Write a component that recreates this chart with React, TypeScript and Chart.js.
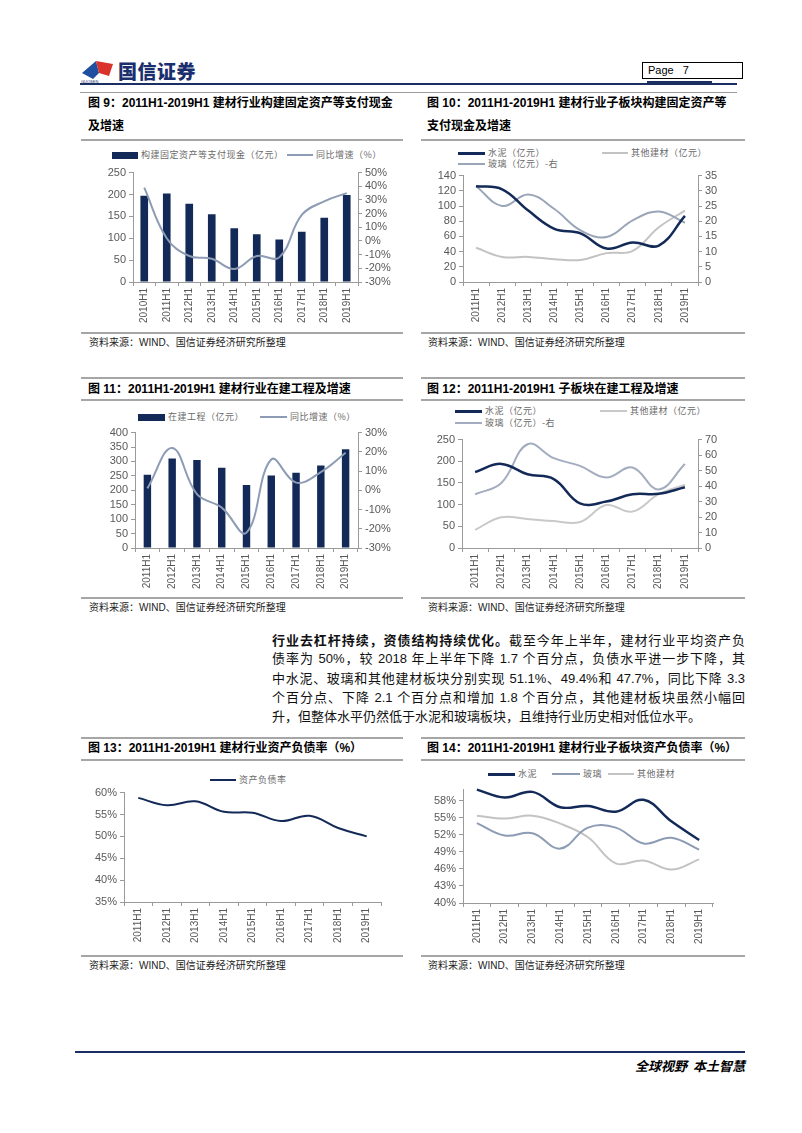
import React, { useEffect, useRef } from "react";
import { Chart, registerables } from "chart.js";
Chart.register(...registerables);

// ---------- data ----------
const cats10 = ["2010H1", "2011H1", "2012H1", "2013H1", "2014H1", "2015H1", "2016H1", "2017H1", "2018H1", "2019H1"];
const cats9 = ["2011H1", "2012H1", "2013H1", "2014H1", "2015H1", "2016H1", "2017H1", "2018H1", "2019H1"];

const f9Cash = [197, 202, 179, 155, 123, 109, 97, 115, 147, 199];
const f9Growth = [39, 2, -11, -13, -20.5, -11, -12, 19, 29, 35];

const f10Cement = [126, 122, 94, 70, 64, 44, 52, 48, 87];
const f10Other = [45, 33, 33, 30, 29, 38, 41, 72, 94];
const f10Glass = [31.5, 25, 28.8, 24, 17, 14.8, 20.3, 23.2, 19.5];

const f11Cip = [254, 310, 305, 278, 218, 251, 261, 286, 342];
const f11Growth = [1, 22, -2, -9, -22, 16, 4, 9.5, 19.5];

const f12Cement = [175, 194, 170, 159, 103, 107, 124, 125, 140];
const f12Other = [42, 71, 67, 62, 60, 99, 84, 124, 146];
const f12Glass = [34.7, 42, 67, 58, 53, 45.5, 52, 37.8, 54.3];

const f13Ratio = [58.8, 57.1, 58.0, 55.6, 55.4, 53.5, 54.7, 51.9, 50.0];

const f14Cement = [60.0, 58.6, 59.6, 56.9, 57.1, 56.1, 58.2, 54.4, 51.1];
const f14Glass = [54.1, 51.9, 52.3, 49.6, 53.3, 53.3, 50.5, 51.5, 49.4];
const f14Other = [55.4, 54.9, 55.4, 54.0, 51.6, 47.0, 47.5, 45.9, 47.7];
const f14Ticks = [40, 43, 46, 49, 52, 55, 58];

// ---------- styles ----------
const NAVY = "#132a58";
const BLUEGRAY = "#8d9cb4";
const LIGHTGRAY = "#c3c3c3";
const AXIS = "#9a9a9a";
const TICK = "#595959";
const FONT = "'Liberation Sans', Arial, 'Noto Sans CJK SC', sans-serif";
const CJK = "'Noto Sans CJK SC', 'Liberation Sans', sans-serif";

type Box = { l: number; t: number; r: number; b: number };

function yAxis(position: string, min: number, max: number, step: number, width: number, pct: boolean, fixed?: number[]) {
  const ax: any = {
    type: "linear",
    position,
    min,
    max,
    ticks: {
      stepSize: step,
      autoSkip: false,
      includeBounds: false,
      color: TICK,
      font: { family: FONT, size: 11 },
      padding: 3,
      callback: (v: any) => (pct ? `${v}%` : `${v}`),
    },
    grid: { display: true, drawOnChartArea: false, drawTicks: true, tickLength: 4, color: AXIS },
    border: { display: true, color: AXIS },
    afterFit: (s: any) => {
      s.width = width;
    },
  };
  if (fixed) {
    ax.afterBuildTicks = (s: any) => {
      s.ticks = fixed.map((v) => ({ value: v }));
    };
  }
  return ax;
}

function xAxis(height: number) {
  return {
    type: "category",
    offset: true,
    grid: { display: true, offset: true, drawOnChartArea: false, drawTicks: true, tickLength: 4, color: AXIS },
    border: { display: true, color: AXIS },
    ticks: {
      autoSkip: false,
      minRotation: 90,
      maxRotation: 90,
      color: TICK,
      font: { family: FONT, size: 10 },
      padding: 2,
    },
    afterFit: (s: any) => {
      s.height = height;
    },
  };
}

function lineDs(label: string, data: number[], color: string, width: number, axis: string, order = 0) {
  return {
    type: "line",
    label,
    data,
    borderColor: color,
    backgroundColor: color,
    borderWidth: width,
    tension: 0.4,
    pointRadius: 0,
    yAxisID: axis,
    order,
    clip: false,
  };
}

function ChartBox({ box, plot, make }: { box: Box; plot: Box; make: (dims: any) => any }) {
  const ref = useRef<HTMLCanvasElement>(null);
  const w = box.r - box.l;
  const h = box.b - box.t;
  useEffect(() => {
    const dims = {
      left: plot.l - box.l,
      right: box.r - plot.r,
      top: plot.t - box.t,
      bottom: box.b - plot.b,
    };
    const cfg = make(dims);
    cfg.options = {
      ...cfg.options,
      responsive: false,
      animation: false,
      devicePixelRatio: 1,
      plugins: { legend: { display: false }, tooltip: { enabled: false } },
    };
    const chart = new Chart(ref.current as HTMLCanvasElement, cfg);
    return () => chart.destroy();
  }, []);
  return (
    <div style={{ position: "absolute", left: box.l, top: box.t, width: w, height: h }}>
      <canvas ref={ref} width={w} height={h} style={{ width: w, height: h, display: "block" }} />
    </div>
  );
}

// ---------- small layout pieces ----------
const abs = (l: number, t: number, extra: any = {}) => ({ position: "absolute" as const, left: l, top: t, ...extra });

function HLine({ x1, x2, y, h = 2, color = "#a6a6a6" }: any) {
  return <div style={abs(x1, y, { width: x2 - x1, height: h, background: color })} />;
}

function Title({ x, y, text }: any) {
  return (
    <div style={abs(x, y - 9, { fontFamily: FONT, fontWeight: 700, fontSize: 12, lineHeight: "18px", color: "#000", whiteSpace: "nowrap" })}>
      {text}
    </div>
  );
}

function Source({ x, y }: any) {
  return (
    <div style={abs(x, y - 7, { fontFamily: FONT, fontSize: 10, lineHeight: "14px", color: "#222", whiteSpace: "nowrap" })}>
      资料来源：WIND、国信证券经济研究所整理
    </div>
  );
}

function LegendItem({ x1, x2, y, kind, color, text }: any) {
  const sh = kind === "bar" ? 7 : kind === "thick" ? 3 : 2;
  return (
    <>
      <div style={abs(x1, y - sh / 2, { width: x2 - x1, height: sh, background: color })} />
      <div
        style={abs(x2 + 3, y - 6, {
          fontFamily: CJK,
          fontSize: 9,
          lineHeight: "12px",
          color: "#6a6a6a",
          whiteSpace: "nowrap",
          letterSpacing: 0.5,
        })}
      >
        {text}
      </div>
    </>
  );
}

const paraLines: { text: string; bold?: string; last?: boolean }[] = [
  { bold: "行业去杠杆持续，资债结构持续优化。", text: "截至今年上半年，建材行业平均资产负" },
  { text: "债率为 50%，较 2018 年上半年下降 1.7 个百分点，负债水平进一步下降，其" },
  { text: "中水泥、玻璃和其他建材板块分别实现 51.1%、49.4%和 47.7%，同比下降 3.3" },
  { text: "个百分点、下降 2.1 个百分点和增加 1.8 个百分点，其他建材板块虽然小幅回" },
  { text: "升，但整体水平仍然低于水泥和玻璃板块，且维持行业历史相对低位水平。", last: true },
];
const paraY = [640, 659.3, 678.6, 697.9, 717.2];

// ---------- chart configs ----------
const make9 = (d: any) => ({
  type: "bar",
  data: {
    labels: cats10,
    datasets: [
      lineDs("同比增速（%）", f9Growth, BLUEGRAY, 2, "y1", 0),
      { type: "bar", label: "构建固定资产等支付现金（亿元）", data: f9Cash, backgroundColor: NAVY, yAxisID: "y", order: 1, barPercentage: 0.34, categoryPercentage: 1 },
    ],
  },
  options: {
    layout: { padding: { top: d.top, left: 0, right: 0, bottom: 0 } },
    scales: {
      x: xAxis(d.bottom),
      y: yAxis("left", 0, 250, 50, d.left, false),
      y1: yAxis("right", -30, 50, 10, d.right, true),
    },
  },
});

const make10 = (d: any) => ({
  type: "line",
  data: {
    labels: cats9,
    datasets: [
      lineDs("水泥（亿元）", f10Cement, NAVY, 2.5, "y", 0),
      lineDs("玻璃（亿元）-右", f10Glass, "#9aa6b8", 2, "y1", 1),
      lineDs("其他建材（亿元）", f10Other, LIGHTGRAY, 2, "y", 2),
    ],
  },
  options: {
    layout: { padding: { top: d.top, left: 0, right: 0, bottom: 0 } },
    scales: {
      x: xAxis(d.bottom),
      y: yAxis("left", 0, 140, 20, d.left, false),
      y1: yAxis("right", 0, 35, 5, d.right, false),
    },
  },
});

const make11 = (d: any) => ({
  type: "bar",
  data: {
    labels: cats9,
    datasets: [
      lineDs("同比增速（%）", f11Growth, BLUEGRAY, 2, "y1", 0),
      { type: "bar", label: "在建工程（亿元）", data: f11Cip, backgroundColor: NAVY, yAxisID: "y", order: 1, barPercentage: 0.3, categoryPercentage: 1 },
    ],
  },
  options: {
    layout: { padding: { top: d.top, left: 0, right: 0, bottom: 0 } },
    scales: {
      x: xAxis(d.bottom),
      y: yAxis("left", 0, 400, 50, d.left, false),
      y1: yAxis("right", -30, 30, 10, d.right, true),
    },
  },
});

const make12 = (d: any) => ({
  type: "line",
  data: {
    labels: cats9,
    datasets: [
      lineDs("水泥（亿元）", f12Cement, NAVY, 2.5, "y", 0),
      lineDs("玻璃（亿元）-右", f12Glass, "#a3adbf", 2, "y1", 1),
      lineDs("其他建材（亿元）", f12Other, "#c9c9c9", 2, "y", 2),
    ],
  },
  options: {
    layout: { padding: { top: d.top, left: 0, right: 0, bottom: 0 } },
    scales: {
      x: xAxis(d.bottom),
      y: yAxis("left", 0, 250, 50, d.left, false),
      y1: yAxis("right", 0, 70, 10, d.right, false),
    },
  },
});

const make13 = (d: any) => ({
  type: "line",
  data: {
    labels: cats9,
    datasets: [lineDs("资产负债率", f13Ratio, NAVY, 2, "y", 0)],
  },
  options: {
    layout: { padding: { top: d.top, left: 0, right: d.right, bottom: 0 } },
    scales: {
      x: xAxis(d.bottom),
      y: yAxis("left", 35, 60, 5, d.left, true),
    },
  },
});

const make14 = (d: any) => ({
  type: "line",
  data: {
    labels: cats9,
    datasets: [
      lineDs("水泥", f14Cement, NAVY, 2.5, "y", 0),
      lineDs("玻璃", f14Glass, BLUEGRAY, 2, "y", 1),
      lineDs("其他建材", f14Other, LIGHTGRAY, 2, "y", 2),
    ],
  },
  options: {
    layout: { padding: { top: d.top, left: 0, right: d.right, bottom: 0 } },
    scales: {
      x: xAxis(d.bottom),
      y: yAxis("left", 40, 60, 3, d.left, true, f14Ticks),
    },
  },
});

// ---------- page ----------
export default function App() {
  const L1 = 81, L2 = 403, R1 = 421, R2 = 745;
  return (
    <div style={{ position: "absolute", left: 0, top: 0, width: 802, height: 1133, background: "#fff", overflow: "hidden" }}>
      {/* header */}
      <svg style={abs(80, 56)} width={36} height={28}>
        <polygon points="2,17 16,5 19,17 13,23" fill="#1f4fa0" />
        <polygon points="16,5 33,8 29,20 19,17" fill="#d9332b" />
      </svg>
      <div style={abs(118, 60, { fontFamily: CJK, fontWeight: 900, fontSize: 19, lineHeight: "22px", color: "#1b2f6e", letterSpacing: 0.5 })}>国信证券</div>
      <div style={abs(81, 80, { fontFamily: FONT, fontSize: 4, lineHeight: "4px", color: "#1b2f6e" })}>GUOSEN</div>
      <div style={abs(642, 62, { width: 94, height: 15, border: "1px solid #000", fontFamily: FONT, fontSize: 11, lineHeight: "15px", paddingLeft: 5, boxSizing: "content-box", whiteSpace: "pre" })}>
        {"Page   7"}
      </div>
      <HLine x1={80} x2={737} y={83} h={2} color="#1c2f63" />
      <HLine x1={647} x2={712} y={81} h={4} color="#1c2f63" />
      <HLine x1={80} x2={737} y={92} h={1} color="#9a9a9a" />

      {/* figure 9 / 10 titles */}
      <Title x={88} y={103} text="图 9：2011H1-2019H1 建材行业构建固定资产等支付现金" />
      <Title x={88} y={126} text="及增速" />
      <Title x={427} y={103} text="图 10：2011H1-2019H1 建材行业子板块构建固定资产等" />
      <Title x={427} y={126} text="支付现金及增速" />
      <HLine x1={L1} x2={L2} y={139} />
      <HLine x1={R1} x2={R2} y={139} />

      <LegendItem x1={112} x2={138} y={155} kind="bar" color={NAVY} text="构建固定资产等支付现金（亿元）" />
      <LegendItem x1={287} x2={313} y={155} kind="line" color={BLUEGRAY} text="同比增速（%）" />
      <ChartBox box={{ l: 85, t: 163, r: 403, b: 325 }} plot={{ l: 133, t: 171, r: 358, b: 282 }} make={make9} />

      <LegendItem x1={458} x2={485} y={153} kind="thick" color={NAVY} text="水泥（亿元）" />
      <LegendItem x1={602} x2={628} y={153} kind="line" color={LIGHTGRAY} text="其他建材（亿元）" />
      <LegendItem x1={458} x2={485} y={164} kind="line" color="#9aa6b8" text="玻璃（亿元）-右" />
      <ChartBox box={{ l: 420, t: 166, r: 745, b: 325 }} plot={{ l: 463, t: 172, r: 698, b: 282 }} make={make10} />

      <HLine x1={L1} x2={L2} y={332} />
      <HLine x1={R1} x2={R2} y={332} />
      <Source x={89} y={343} />
      <Source x={428} y={343} />

      {/* figure 11 / 12 */}
      <HLine x1={L1} x2={L2} y={377} />
      <HLine x1={R1} x2={R2} y={377} />
      <Title x={88} y={389} text="图 11：2011H1-2019H1 建材行业在建工程及增速" />
      <Title x={427} y={389} text="图 12：2011H1-2019H1 子板块在建工程及增速" />
      <HLine x1={L1} x2={L2} y={399} />
      <HLine x1={R1} x2={R2} y={399} />

      <LegendItem x1={138} x2={165} y={417} kind="bar" color={NAVY} text="在建工程（亿元）" />
      <LegendItem x1={260} x2={287} y={417} kind="line" color={BLUEGRAY} text="同比增速（%）" />
      <ChartBox box={{ l: 85, t: 423, r: 403, b: 592 }} plot={{ l: 135, t: 429, r: 358, b: 548 }} make={make11} />

      <LegendItem x1={455} x2={482} y={411} kind="thick" color={NAVY} text="水泥（亿元）" />
      <LegendItem x1={600} x2={627} y={411} kind="line" color="#c9c9c9" text="其他建材（亿元）" />
      <LegendItem x1={455} x2={482} y={423} kind="line" color="#a3adbf" text="玻璃（亿元）-右" />
      <ChartBox box={{ l: 420, t: 430, r: 745, b: 592 }} plot={{ l: 462, t: 436, r: 698, b: 548 }} make={make12} />

      <HLine x1={L1} x2={L2} y={597} />
      <HLine x1={R1} x2={R2} y={597} />
      <Source x={89} y={608} />
      <Source x={428} y={608} />

      {/* paragraph */}
      {paraLines.map((ln, i) => (
        <div
          key={i}
          style={abs(272, paraY[i] - 10, {
            width: 473,
            fontFamily: FONT,
            fontSize: 13,
            lineHeight: "20px",
            color: "#111",
            whiteSpace: "nowrap",
            textAlign: ln.last ? "left" : "justify",
            textAlignLast: ln.last ? "left" : "justify",
          })}
        >
          {ln.bold ? <b style={{ fontFamily: CJK, fontWeight: 700 }}>{ln.bold}</b> : null}
          {ln.text}
        </div>
      ))}

      {/* figure 13 / 14 */}
      <HLine x1={L1} x2={L2} y={737} />
      <HLine x1={R1} x2={R2} y={737} />
      <Title x={88} y={748} text="图 13：2011H1-2019H1 建材行业资产负债率（%）" />
      <Title x={427} y={748} text="图 14：2011H1-2019H1 建材行业子板块资产负债率（%）" />
      <HLine x1={L1} x2={L2} y={759} />
      <HLine x1={R1} x2={R2} y={759} />

      <LegendItem x1={210} x2={236} y={780} kind="line" color={NAVY} text="资产负债率" />
      <ChartBox box={{ l: 80, t: 783, r: 403, b: 950 }} plot={{ l: 124, t: 789, r: 381, b: 902 }} make={make13} />

      <LegendItem x1={488} x2={515} y={774} kind="thick" color={NAVY} text="水泥" />
      <LegendItem x1={552} x2={580} y={774} kind="line" color={BLUEGRAY} text="玻璃" />
      <LegendItem x1={608} x2={634} y={774} kind="line" color={LIGHTGRAY} text="其他建材" />
      <ChartBox box={{ l: 420, t: 780, r: 745, b: 950 }} plot={{ l: 463, t: 786, r: 713, b: 903 }} make={make14} />

      <HLine x1={L1} x2={L2} y={955} />
      <HLine x1={R1} x2={R2} y={955} />
      <Source x={89} y={966} />
      <Source x={428} y={966} />

      {/* footer */}
      <HLine x1={75} x2={745} y={1051} h={2} color="#1c2f63" />
      <div style={abs(600, 1057, { width: 145, textAlign: "right", fontFamily: CJK, fontWeight: 700, fontStyle: "italic", fontSize: 13, lineHeight: "18px", color: "#000", whiteSpace: "pre" })}>
        {"全球视野  本土智慧"}
      </div>
    </div>
  );
}
